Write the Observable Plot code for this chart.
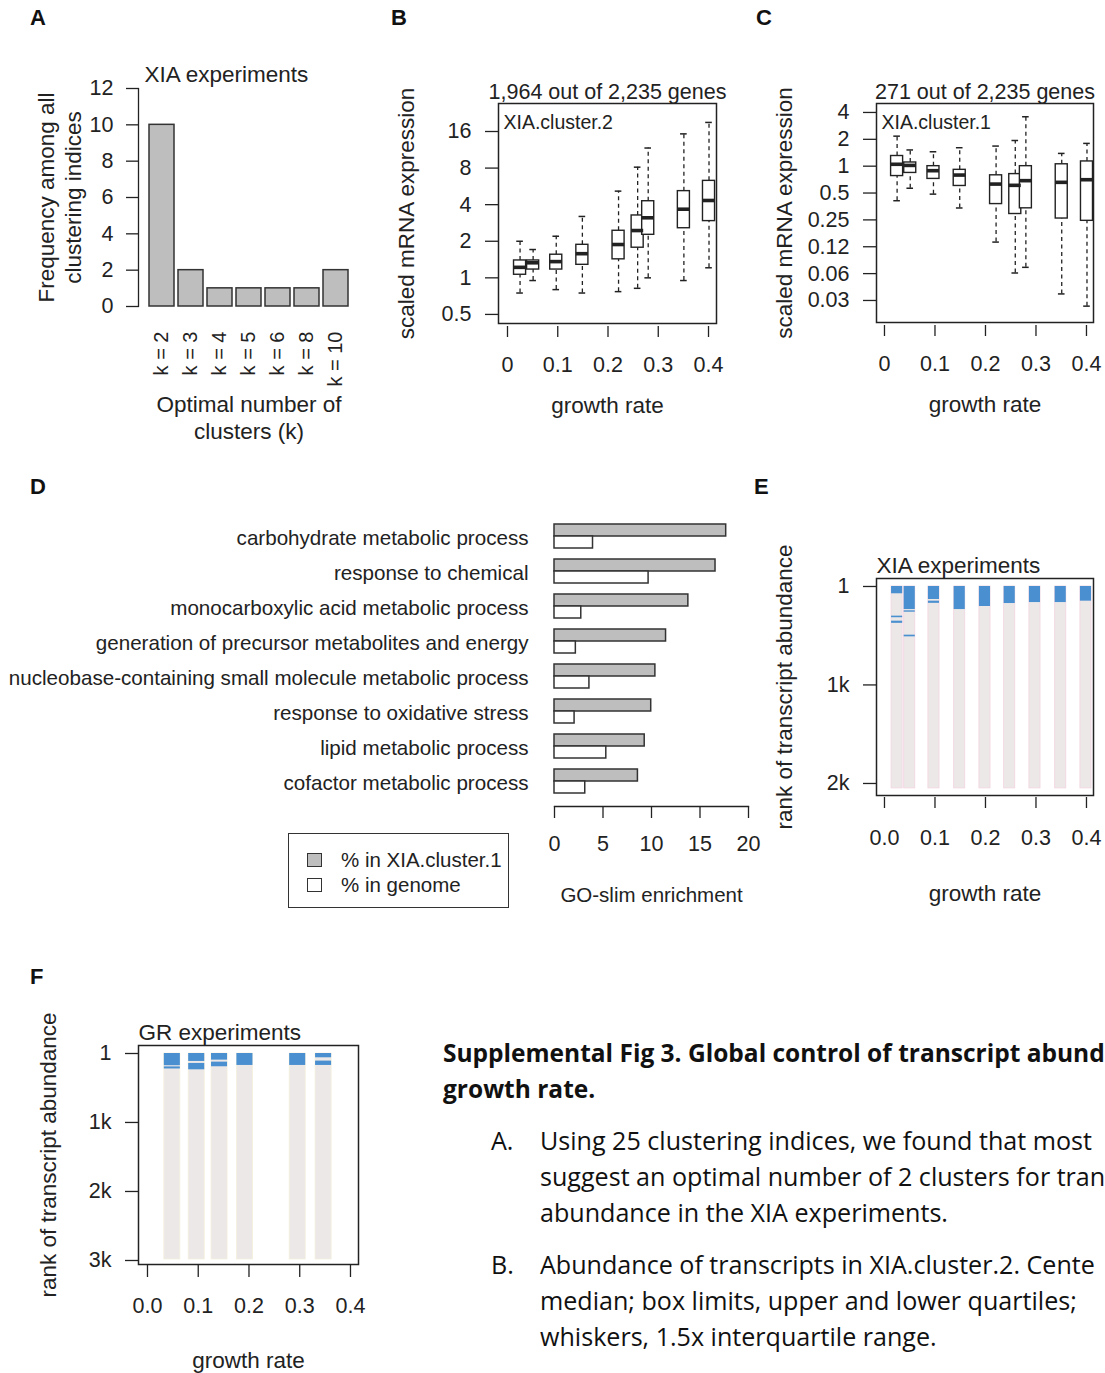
<!DOCTYPE html>
<html><head><meta charset="utf-8">
<script src="https://cdn.jsdelivr.net/npm/d3@7"></script>
<script src="https://cdn.jsdelivr.net/npm/@observablehq/plot@0.6"></script>
<style>
html,body{margin:0;padding:0;background:#fff;}
#page{position:relative;width:1105px;height:1373px;overflow:hidden;background:#fff;font-family:'Liberation Sans',Arial,sans-serif;color:#222;}
.panel{position:absolute;}
.letter{position:absolute;font-weight:bold;font-size:22px;line-height:22px;font-family:'Liberation Sans',Arial,sans-serif;color:#111;}
.cap{position:absolute;white-space:nowrap;font-family:'Open Sans',Lato,sans-serif;font-size:25.1px;line-height:36px;color:#111;}
.cap.b{font-weight:bold;font-size:24.5px;}
.legend{position:absolute;left:288px;top:833px;width:221px;height:75px;border:1.5px solid #333;box-sizing:border-box;}
.legend .sw{position:absolute;left:18px;width:15px;height:14px;border:1.5px solid #333;box-sizing:border-box;}
.legend .lt{position:absolute;left:52px;font-size:20.5px;line-height:22px;white-space:nowrap;color:#222;}
</style></head>
<body><div id="page"></div>
<script>
// ---------- DATA ----------
// Panel A
const kLabels = ["k = 2","k = 3","k = 4","k = 5","k = 6","k = 8","k = 10"];
const kFreq = [10,2,1,1,1,1,2];

// Panels B & C (XIA experiments growth rates)
const growthXIA = [0.025,0.051,0.097,0.149,0.221,0.259,0.280,0.351,0.401];
// XIA.cluster.2 box stats
const c2Low  = [0.75,0.95,0.80,0.75,0.77,0.82,1.00,0.95,1.21];
const c2Q1   = [1.06,1.17,1.17,1.28,1.42,1.77,2.26,2.56,2.93];
const c2Med  = [1.22,1.33,1.36,1.58,1.88,2.45,3.12,3.67,4.33];
const c2Q3   = [1.39,1.39,1.55,1.87,2.44,3.26,4.27,5.17,6.28];
const c2High = [2.0,1.71,2.2,3.2,5.17,8.14,11.7,15.3,19.0];
// XIA.cluster.1 box stats
const c1Low  = [0.41,0.566,0.486,0.34,0.141,0.0635,0.0735,0.037,0.027];
const c1Q1   = [0.775,0.84,0.72,0.60,0.376,0.291,0.337,0.259,0.244];
const c1Med  = [1.05,1.02,0.89,0.795,0.63,0.61,0.688,0.659,0.705];
const c1Q3   = [1.30,1.10,1.0,0.91,0.79,0.815,1.0,1.05,1.13];
const c1High = [2.17,1.52,1.45,1.61,1.68,1.94,3.58,1.39,1.80];
const bTicks = [0.5,1,2,4,8,16];
const bTickLabels = ["0.5","1","2","4","8","16"];
const cTicks = [4,2,1,0.5,0.25,0.125,0.0625,0.03125];
const cTickLabels = ["4","2","1","0.5","0.25","0.12","0.06","0.03"];
const grTicks = [0,0.1,0.2,0.3,0.4];
const grTickLabelsBC = ["0","0.1","0.2","0.3","0.4"];
const grTickLabelsEF = ["0.0","0.1","0.2","0.3","0.4"];

// Panel D
const goTerms = ["carbohydrate metabolic process","response to chemical","monocarboxylic acid metabolic process","generation of precursor metabolites and energy","nucleobase-containing small molecule metabolic process","response to oxidative stress","lipid metabolic process","cofactor metabolic process"];
const goCluster = [17.7,16.6,13.8,11.5,10.4,9.97,9.3,8.6];
const goGenome  = [3.97,9.7,2.76,2.2,3.6,2.07,5.34,3.17];
const goTicks = [0,5,10,15,20];

// Panel E (XIA experiments, rank of transcript abundance)
const growthE = [0.025,0.050,0.098,0.149,0.199,0.248,0.298,0.349,0.399];
const eTotal = 2050;
const eSegCol   = [0,0,0,1,1,1,2,2,3,4,5,6,7,8];
const eSegStart = [1,302,353,1,248,495,1,150,1,1,1,1,1,1];
const eSegEnd   = [75,318,375,235,262,512,133,172,235,204,174,164,164,150];
const eTicks = [1,1000,2000];
const eTickLabels = ["1","1k","2k"];

// Panel F (GR experiments)
const growthF = [0.049,0.097,0.142,0.192,0.296,0.347];
const fTotal = 2985;
const fSegCol   = [0,0,1,1,2,2,3,4,5,5];
const fSegStart = [1,195,1,145,1,126,1,1,1,111];
const fSegEnd   = [178,225,116,237,97,193,174,174,63,174];
const fTicks = [1,1000,2000,3000];
const fTickLabels = ["1","1k","2k","3k"];

// ---------- STYLE ----------
const FONT = "'Liberation Sans', Arial, Helvetica, sans-serif";
const INK = "#222";
const GRAY = "#BEBEBE";
const BLUE = "#4A8FD0";
const COL = "#ECE8E8";
const TICK = 21.5, LAB = 22.5;
const baseStyle = {fontFamily: FONT, fontSize: "21px", color: INK, background: "transparent", overflow: "visible"};

const page = document.getElementById("page");
function place(node, left, top, w, h) {
  const d = document.createElement("div");
  d.className = "panel";
  d.style.left = left + "px"; d.style.top = top + "px";
  d.style.width = w + "px"; d.style.height = h + "px";
  d.appendChild(node); page.appendChild(d);
}
function html(cls, text, left, top, extra) {
  const d = document.createElement("div");
  d.className = cls; d.textContent = text;
  d.style.left = left + "px"; d.style.top = top + "px";
  if (extra) Object.assign(d.style, extra);
  page.appendChild(d); return d;
}
const fmtMap = (ticks, labels) => { const m = new Map(ticks.map((t, i) => [t, labels[i]])); return d => m.get(d); };
const yLabel = (txt, dx) => Plot.text([txt], {text: d => d, frameAnchor: "left", textAnchor: "middle", lineAnchor: "middle", rotate: -90, dx, lineHeight: 1.2, fontSize: LAB});
const xLabel = (txt, dy, size) => Plot.text([txt], {text: d => d, frameAnchor: "bottom", textAnchor: "middle", lineAnchor: "middle", dy, fontSize: size || LAB});
const topLeft = (txt, dx, dy, size) => Plot.text([txt], {text: d => d, frameAnchor: "top-left", textAnchor: "start", lineAnchor: "middle", dx, dy, fontSize: size});

// ---------- PANEL A ----------
const dataA = kLabels.map((k, i) => ({k, n: kFreq[i]}));
place(Plot.plot({
  width: 380, height: 420,
  marginLeft: 138, marginRight: 21, marginTop: 48, marginBottom: 154,
  style: baseStyle,
  x: {type: "band", domain: kLabels, paddingInner: 0.15, paddingOuter: 0.304, axis: null},
  y: {domain: [0, 12], axis: null},
  marks: [
    Plot.barY(dataA, {x: "k", y: "n", fill: GRAY, stroke: "#333", strokeWidth: 1.5}),
    Plot.frame({anchor: "left", stroke: INK, strokeWidth: 1.3}),
    Plot.axisY({ticks: [0,2,4,6,8,10,12], tickSize: 12, tickPadding: 13, label: null, fontSize: TICK, strokeWidth: 1.3}),
    Plot.axisX({tickSize: 0, tickRotate: -90, tickPadding: 25, label: null, fontSize: 20}),
    topLeft("XIA experiments", 6, -14, LAB),
    Plot.text(["Optimal number of\nclusters (k)"], {text: d => d, frameAnchor: "bottom", textAnchor: "middle", lineAnchor: "top", dy: 86, lineHeight: 1.2, fontSize: LAB}),
    yLabel("Frequency among all\nclustering indices", -80)
  ]
}), 0, 40, 380, 420);

// ---------- PANELS B & C ----------
function boxPanel({low, q1, med, q3, high, yDomain, yTicks, yTickLabels, xDomain, width, height, margins, title, tag, hw}) {
  const rows = growthXIA.map((g, i) => ({g, low: low[i], q1: q1[i], med: med[i], q3: q3[i], high: high[i]}));
  const cw = hw * 0.55;
  return Plot.plot({
    width, height, ...margins,
    style: baseStyle,
    x: {domain: xDomain, axis: null},
    y: {type: "log", base: 2, domain: yDomain, axis: null},
    marks: [
      Plot.ruleX(rows, {x: "g", y1: "q3", y2: "high", stroke: INK, strokeWidth: 1.3, strokeDasharray: "4,3.5"}),
      Plot.ruleX(rows, {x: "g", y1: "low", y2: "q1", stroke: INK, strokeWidth: 1.3, strokeDasharray: "4,3.5"}),
      Plot.ruleY(rows, {y: "high", x1: d => d.g - cw, x2: d => d.g + cw, stroke: INK, strokeWidth: 1.5}),
      Plot.ruleY(rows, {y: "low", x1: d => d.g - cw, x2: d => d.g + cw, stroke: INK, strokeWidth: 1.5}),
      Plot.rect(rows, {x1: d => d.g - hw, x2: d => d.g + hw, y1: "q1", y2: "q3", fill: "white", stroke: INK, strokeWidth: 1.4}),
      Plot.ruleY(rows, {y: "med", x1: d => d.g - hw, x2: d => d.g + hw, stroke: INK, strokeWidth: 3.6}),
      Plot.frame({stroke: INK, strokeWidth: 1.5}),
      Plot.axisY({ticks: yTicks, tickFormat: fmtMap(yTicks, yTickLabels), tickSize: 13, tickPadding: 14, label: null, fontSize: TICK, strokeWidth: 1.3}),
      Plot.axisX({ticks: grTicks, tickFormat: fmtMap(grTicks, grTickLabelsBC), tickSize: 11, tickPadding: 19, dy: 3, label: null, fontSize: TICK, strokeWidth: 1.3}),
      Plot.text([title], {text: d => d, frameAnchor: "top", textAnchor: "middle", lineAnchor: "middle", dy: -11, fontSize: 21.5}),
      topLeft(tag, 5, 19, 19.5),
      yLabel("scaled mRNA expression", -93),
      xLabel("growth rate", 82)
    ]
  });
}
place(boxPanel({low: c2Low, q1: c2Q1, med: c2Med, q3: c2Q3, high: c2High,
  yDomain: [0.421, 27.2], yTicks: bTicks, yTickLabels: bTickLabels, xDomain: [-0.0179, 0.4159],
  width: 360, height: 380, margins: {marginLeft: 118, marginRight: 24, marginTop: 43, marginBottom: 117},
  title: "1,964 out of 2,235 genes", tag: "XIA.cluster.2", hw: 0.012}), 380, 60, 360, 380);
place(boxPanel({low: c1Low, q1: c1Q1, med: c1Med, q3: c1Q3, high: c1High,
  yDomain: [0.0177, 5.04], yTicks: cTicks, yTickLabels: cTickLabels, xDomain: [-0.0158, 0.4139],
  width: 345, height: 380, margins: {marginLeft: 116, marginRight: 12, marginTop: 43, marginBottom: 118},
  title: "271 out of 2,235 genes", tag: "XIA.cluster.1", hw: 0.0119}), 760, 60, 345, 380);

// ---------- PANEL D ----------
const dataD = goTerms.map((t, i) => ({t, c: goCluster[i], g: goGenome[i]}));
place(Plot.plot({
  width: 770, height: 420,
  marginLeft: 554, marginRight: 22, marginTop: 10.8, marginBottom: 114,
  style: baseStyle,
  x: {domain: [0, 20], axis: null},
  y: {type: "band", domain: goTerms, paddingInner: 0.324, paddingOuter: 0.33, axis: null},
  marks: [
    Plot.barX(dataD, {y: "t", x: "c", fill: GRAY, stroke: "#333", strokeWidth: 1.5, insetBottom: 12}),
    Plot.barX(dataD, {y: "t", x: "g", fill: "white", stroke: "#333", strokeWidth: 1.5, insetTop: 12}),
    Plot.frame({anchor: "bottom", stroke: INK, strokeWidth: 1.3}),
    Plot.axisX({ticks: goTicks, tickSize: 12, tickPadding: 17, label: null, fontSize: TICK, strokeWidth: 1.3}),
    Plot.axisY({tickSize: 0, tickPadding: 26, dy: 2, label: null, fontSize: 20.6}),
    xLabel("GO-slim enrichment", 89, 20.5)
  ]
}), 0, 500, 770, 420);

// legend for D
const leg = document.createElement("div"); leg.className = "legend"; page.appendChild(leg);
[["% in XIA.cluster.1", GRAY, 19], ["% in genome", "#fff", 44]].forEach(([lbl, fill, top]) => {
  const s = document.createElement("div"); s.className = "sw"; s.style.top = top + "px"; s.style.background = fill; leg.appendChild(s);
  const t = document.createElement("div"); t.className = "lt"; t.textContent = lbl; t.style.top = (top - 4) + "px"; leg.appendChild(t);
});

// ---------- PANELS E & F ----------
function rankPanel({growth, total, segCol, segStart, segEnd, yDomain, yTicks, yTickLabels, xDomain, width, height, margins, title, hw, edge, tickSize, tickPadding, xdy, xlabDy, ylabDx}) {
  const cols = growth.map(g => ({g, top: 1, bottom: total}));
  const segs = segCol.map((c, i) => ({g: growth[c], s: segStart[i], e: segEnd[i]}));
  return Plot.plot({
    width, height, ...margins,
    style: baseStyle,
    x: {domain: xDomain, axis: null},
    y: {domain: yDomain, reverse: true, axis: null},
    marks: [
      Plot.rect(cols, {x1: d => d.g - hw, x2: d => d.g + hw, y1: "top", y2: "bottom", fill: COL, stroke: edge, strokeWidth: 0.8}),
      Plot.rect(segs, {x1: d => d.g - hw, x2: d => d.g + hw, y1: "s", y2: "e", fill: BLUE}),
      Plot.frame({stroke: INK, strokeWidth: 1.5}),
      Plot.axisY({ticks: yTicks, tickFormat: fmtMap(yTicks, yTickLabels), tickSize: 13, tickPadding: 14, label: null, fontSize: TICK, strokeWidth: 1.3}),
      Plot.axisX({ticks: grTicks, tickFormat: fmtMap(grTicks, grTickLabelsEF), tickSize, tickPadding, dy: xdy, label: null, fontSize: TICK, strokeWidth: 1.3}),
      topLeft(title, 0, -13, LAB),
      yLabel("rank of transcript abundance", ylabDx),
      xLabel("growth rate", xlabDy)
    ]
  });
}
place(rankPanel({growth: growthE, total: eTotal, segCol: eSegCol, segStart: eSegStart, segEnd: eSegEnd,
  yDomain: [-80, 2122], yTicks: eTicks, yTickLabels: eTickLabels, xDomain: [-0.0158, 0.4139],
  width: 345, height: 450, margins: {marginLeft: 116, marginRight: 12, marginTop: 108, marginBottom: 125},
  title: "XIA experiments", hw: 0.011, edge: "#F2D4E0", tickSize: 11, tickPadding: 21, xdy: 2, xlabDy: 98, ylabDx: -93}), 760, 470, 345, 450);
place(rankPanel({growth: growthF, total: fTotal, segCol: fSegCol, segStart: fSegStart, segEnd: fSegEnd,
  yDomain: [-115, 3058], yTicks: fTicks, yTickLabels: fTickLabels, xDomain: [-0.0177, 0.4158],
  width: 380, height: 373, margins: {marginLeft: 138, marginRight: 22, marginTop: 45, marginBottom: 109},
  title: "GR experiments", hw: 0.0158, edge: "#F4F0DC", tickSize: 13, tickPadding: 20, xdy: 0, xlabDy: 96, ylabDx: -91}), 0, 1000, 380, 373);

// ---------- PANEL LETTERS ----------
html("letter", "A", 30, 7);
html("letter", "B", 391, 7);
html("letter", "C", 756, 7);
html("letter", "D", 30, 476);
html("letter", "E", 754, 476);
html("letter", "F", 30, 966);

// ---------- CAPTION (as visible in the reference, which is cut at its right edge) ----------
html("cap b", "Supplemental Fig 3. Global control of transcript abund", 443, 1035);
html("cap b", "growth rate.", 443, 1071);
html("cap", "A.", 491, 1122);
html("cap", "Using 25 clustering indices, we found that most", 540, 1122);
html("cap", "suggest an optimal number of 2 clusters for tran", 540, 1158);
html("cap", "abundance in the XIA experiments.", 540, 1194);
html("cap", "B.", 491, 1246);
html("cap", "Abundance of transcripts in XIA.cluster.2. Cente", 540, 1246);
html("cap", "median; box limits, upper and lower quartiles;", 540, 1282);
html("cap", "whiskers, 1.5x interquartile range.", 540, 1318);
</script>
</body></html>
